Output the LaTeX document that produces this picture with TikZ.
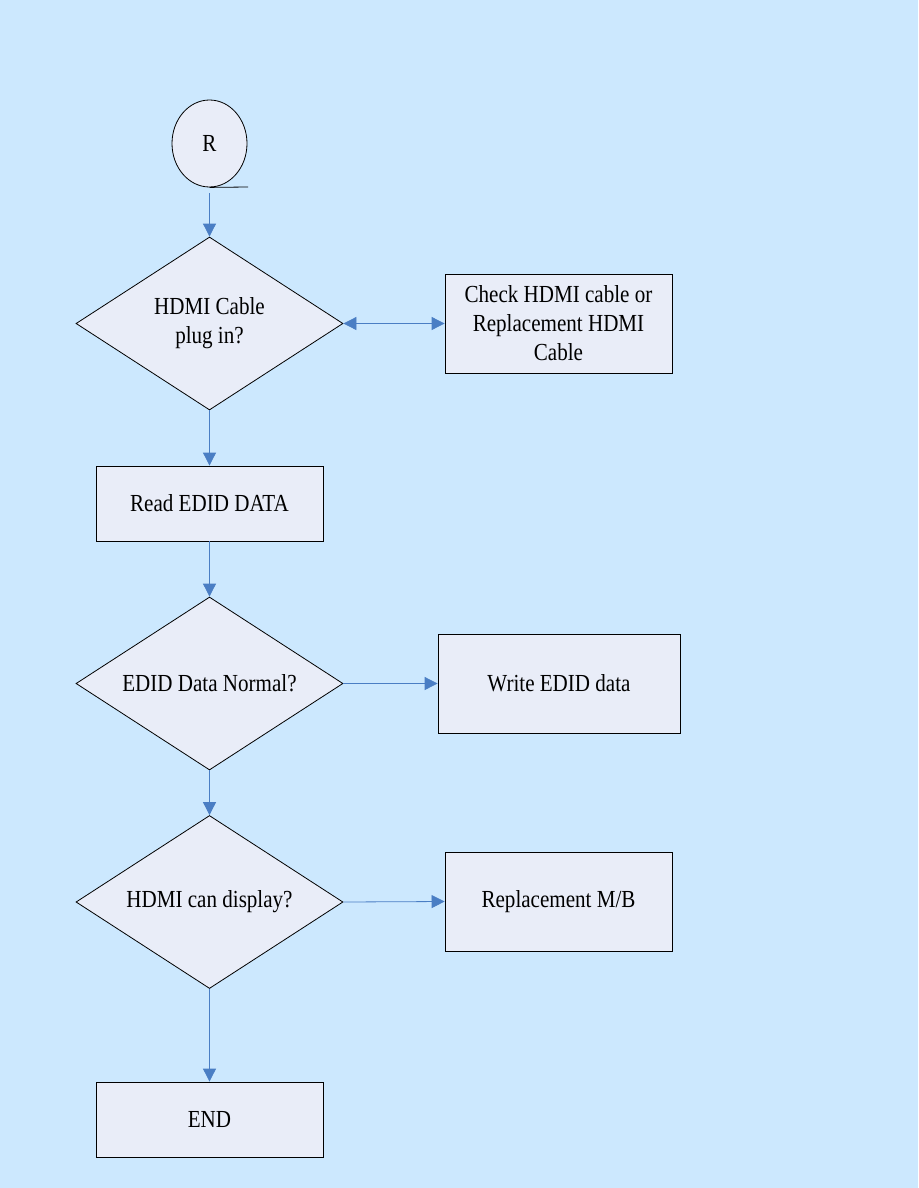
\documentclass[tikz,border=0pt]{standalone}
\usepackage{fontspec}
\setmainfont{Liberation Serif}[FakeStretch=0.86]
\usetikzlibrary{shapes.geometric,arrows.meta}
\definecolor{bg}{HTML}{CCE8FE}
\definecolor{shapefill}{HTML}{E9EDF8}
\definecolor{arrowblue}{HTML}{4A7EC4}
\tikzset{
  boxnode/.style={draw=black, line width=0.8pt, fill=shapefill, inner sep=0pt, align=center,
    font=\fontsize{24.5}{29}\selectfont},
  decision/.style={diamond, draw=black, line width=0.8pt, fill=shapefill, inner sep=0pt,
    aspect=1.54, minimum width=267pt, minimum height=173pt, align=center,
    font=\fontsize{24.5}{29}\selectfont},
  conn/.style={draw=arrowblue, line width=0.8pt, -{Triangle[length=13pt,width=13pt]}, arrowblue},
}
\begin{document}
\begin{tikzpicture}[x=1pt,y=-1pt]
\fill[bg] (0,0) rectangle (918,1188);
\useasboundingbox (0,0) rectangle (918,1188);

\node[ellipse, draw=black, line width=0.8pt, fill=shapefill, minimum width=75pt, minimum height=87pt,
  inner sep=0pt, font=\fontsize{24.5}{29}\selectfont] (R) at (209.5,143.5) {R};
\coordinate (Rtail) at (248,187);
\draw[line width=0.8pt] (R.south) -- (Rtail);

\node[decision] (d1) at (209.5,323.5) {HDMI Cable\\plug in?};
\node[boxnode, minimum width=227pt, minimum height=99pt] (check) at (558.5,323.5) {Check HDMI cable or\\Replacement HDMI\\Cable};
\node[boxnode, minimum width=227pt, minimum height=75pt] (read) at (209.5,503.5) {Read EDID DATA};
\node[decision] (d2) at (209.5,683.5) {EDID Data Normal?};
\node[boxnode, minimum width=242pt, minimum height=99pt] (write) at (559,683.5) {Write EDID data};
\node[decision] (d3) at (209.5,902) {HDMI can display?};
\node[boxnode, minimum width=227pt, minimum height=99pt] (repl) at (558.5,901.5) {Replacement M/B};
\node[boxnode, minimum width=227pt, minimum height=75pt] (endn) at (209.5,1119.5) {END};

\draw[conn, shorten <=6pt] (R.south) -- (d1.north);
\draw[conn, {Triangle[length=13pt,width=13pt]}-{Triangle[length=13pt,width=13pt]}] (d1.east) -- (check.west);
\draw[conn] (d1.south) -- (read.north);
\draw[conn] (read.south) -- (d2.north);
\draw[conn] (d2.east) -- (write.west);
\draw[conn] (d2.south) -- (d3.north);
\draw[conn] (d3.east) -- (repl.west);
\draw[conn] (d3.south) -- (endn.north);
\end{tikzpicture}
\end{document}
